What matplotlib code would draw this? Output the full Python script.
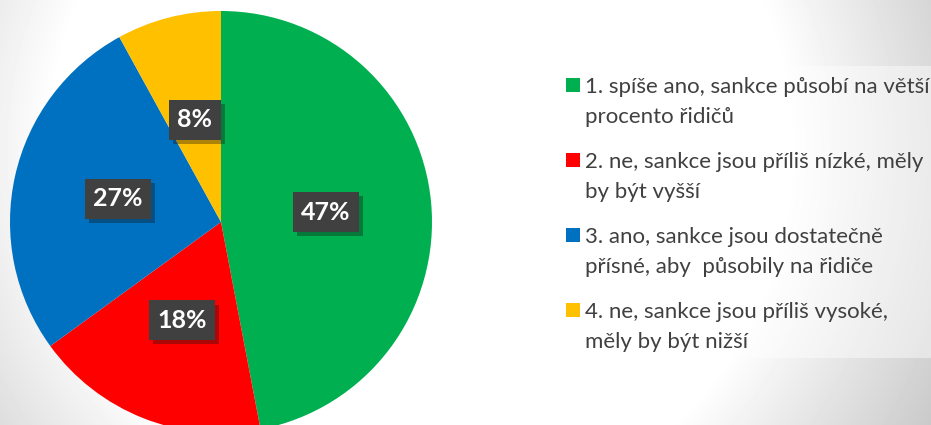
import numpy as np
import matplotlib
matplotlib.use('Agg')
import matplotlib.pyplot as plt
import matplotlib.patheffects as pe
from matplotlib.patches import Rectangle

# chart data
labels = ['1. spíše ano, sankce působí na větší\nprocento řidičů',
          '2. ne, sankce jsou příliš nízké, měly\nby být vyšší',
          '3. ano, sankce jsou dostatečně\npřísné, aby  působily na řidiče',
          '4. ne, sankce jsou příliš vysoké,\nměly by být nižší']
values = [47, 18, 27, 8]
colors = ['#00b050', '#ff0000', '#0070c0', '#ffc000']

W, H = 931, 425
fig = plt.figure(figsize=(W / 100, H / 100), dpi=100)

# radial grey background
bg = fig.add_axes([0, 0, 1, 1])
yy, xx = np.mgrid[0:H, 0:W]
d = np.hypot(xx - 420, yy - 150)
shade = 1 - 0.001 * np.clip(d - 370, 0, None)
bg.imshow(shade, cmap='gray', vmin=0, vmax=1, aspect='auto', extent=[0, W, H, 0])
bg.set_xlim(0, W)
bg.set_ylim(H, 0)
bg.axis('off')

# legend panel (pixel coords on bg axes)
bg.add_patch(Rectangle((553, 66), W - 553, 292, facecolor='white', alpha=0.45,
                       edgecolor='none'))

# legend entries, drawn by hand so the marker sits on the first line
for i, (lab, col) in enumerate(zip(labels, colors)):
    ytop = 77 + i * 75
    bg.add_patch(Rectangle((566, ytop + 1), 14, 14, facecolor=col, edgecolor='none'))
    bg.text(585, ytop, lab, va='top', ha='left', color='#404040', fontsize=16,
            family='Lato', linespacing=1.6)

# pie axes: centre (221, 222) px, radius 211 px
ax = fig.add_axes([10 / W, (H - 433) / H, 422 / W, 422 / H])
wedges, texts, autotexts = ax.pie(values, colors=colors, startangle=90, counterclock=False,
                                  radius=1, autopct='%d%%', pctdistance=0.5,
                                  wedgeprops=dict(linewidth=0),
                                  textprops=dict(color='white', fontsize=18, fontweight='bold',
                                                 family='Lato'))
ax.set_xlim(-1, 1)
ax.set_ylim(-1, 1)
ax.set_aspect('equal')
ax.axis('off')

for t in autotexts:
    t.set_bbox(dict(boxstyle='square,pad=0.33', facecolor='#404040', edgecolor='none'))
    t.get_bbox_patch().set_path_effects([pe.SimplePatchShadow(offset=(3, -3), alpha=0.35),
                                         pe.Normal()])

fig.savefig('out.png', dpi=100)
